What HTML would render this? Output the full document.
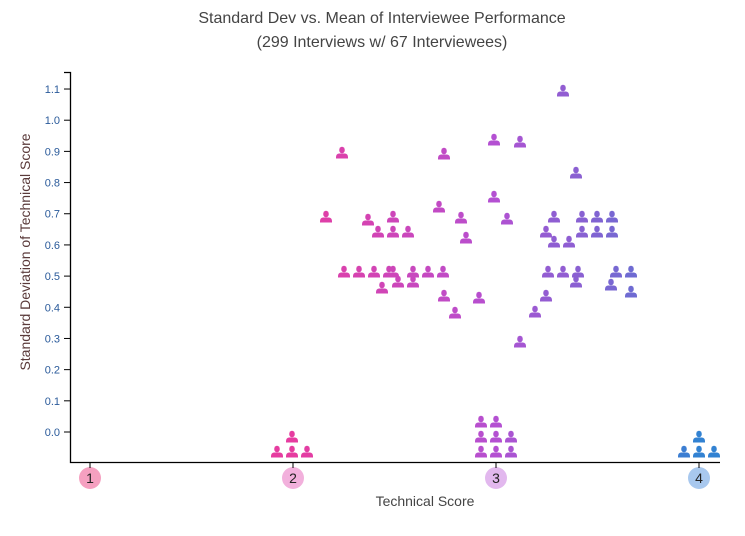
<!DOCTYPE html>
<html><head><meta charset="utf-8"><style>
body{margin:0;background:#fff;}
svg{font-family:"Liberation Sans",sans-serif;}
</style></head><body>
<svg width="745" height="531" xmlns="http://www.w3.org/2000/svg">
<defs>
<g id="p"><ellipse cx="0" cy="-4" rx="2.8" ry="3.3"/><path d="M-3,-0.5 L3,-0.5 Q6,0 6,3 L6,4.5 L-6,4.5 L-6,3 Q-6,0 -3,-0.5Z"/></g>
</defs>
<text x="382" y="23" text-anchor="middle" font-size="16" fill="#444">Standard Dev vs. Mean of Interviewee Performance</text>
<text x="382" y="47" text-anchor="middle" font-size="16" fill="#444">(299 Interviews w/ 67 Interviewees)</text>
<text transform="translate(30,252) rotate(-90)" text-anchor="middle" font-size="14" fill="#5a3a3a">Standard Deviation of Technical Score</text>
<text x="425" y="506" text-anchor="middle" font-size="14" fill="#444">Technical Score</text>
<g stroke="#000" stroke-width="1.3" fill="none">
<path d="M64,72.5 H70.5 V462.5 H720"/>
</g>
<g id="yt" font-size="11" fill="#2a5a9a" text-anchor="end"></g>
<g id="pts"></g>
<g font-size="14" text-anchor="middle" fill="#222">
<circle cx="90" cy="478" r="11" fill="#f5a0c0"/><text x="90" y="483">1</text>
<circle cx="293" cy="478" r="11" fill="#f2b0dc"/><text x="293" y="483">2</text>
<circle cx="496" cy="478" r="11" fill="#e2b8ee"/><text x="496" y="483">3</text>
<circle cx="699" cy="478" r="11" fill="#a8c8ee"/><text x="699" y="483">4</text>
</g>
<g stroke="#000" stroke-width="1"><path d="M90,462 v6 M293,462 v6 M496,462 v6 M699,462 v6"/></g>
<script>
var ns="http://www.w3.org/2000/svg";
var yt=document.getElementById("yt");
for(var i=0;i<=11;i++){var y=432-i*31.18;
var t=document.createElementNS(ns,"text");t.setAttribute("x",60);t.setAttribute("y",y+4);t.textContent=(i/10).toFixed(1);yt.appendChild(t);
var l=document.createElementNS(ns,"line");l.setAttribute("x1",64);l.setAttribute("x2",70);l.setAttribute("y1",y);l.setAttribute("y2",y);l.setAttribute("stroke","#000");yt.appendChild(l);}
var P=[[277,450],[292,450],[307,450],[292,435],[481,450],[496,450],[511,450],[481,435],[496,435],[511,435],[481,420],[496,420],[684,450],[699,450],[714,450],[699,435],
[342,151],[326,215],[344,270],[359,270],[374,270],[389,270],[382,286],[368,218],[378,230],[393,215],[393,230],[408,230],[393,270],[398,280],[413,270],[413,280],[428,270],[443,270],[439,205],[444,152],[444,294],[455,311],[461,216],[466,236],[479,296],[494,138],[494,195],[507,217],[520,140],[520,340],[535,310],[546,294],[546,230],[554,215],[554,240],[548,270],[563,270],[569,240],[578,270],[576,280],[563,89],[576,171],[582,215],[597,215],[612,215],[582,230],[597,230],[612,230],[611,283],[616,270],[631,270],[631,290]];
function col(x){var s=(x-90)/203+1;var a,b,f;
var C2=[230,60,160],C3=[180,80,210],C4=[50,130,210];
if(s<=3){f=Math.max(0,(s-2));a=C2;b=C3;}else{f=Math.min(1,s-3);a=C3;b=C4;}
if(s>3.3&&s<3.8){f=(s-3)*0.8;}
return "rgb("+a.map(function(v,i){return Math.round(v+(b[i]-v)*f)}).join(",")+")";}
var g=document.getElementById("pts");
P.forEach(function(p){var u=document.createElementNS(ns,"use");u.setAttribute("href","#p");u.setAttribute("transform","translate("+p[0]+","+(p[1]+3)+")");u.setAttribute("fill",col(p[0]));g.appendChild(u);});
</script>
</svg>
</body></html>
